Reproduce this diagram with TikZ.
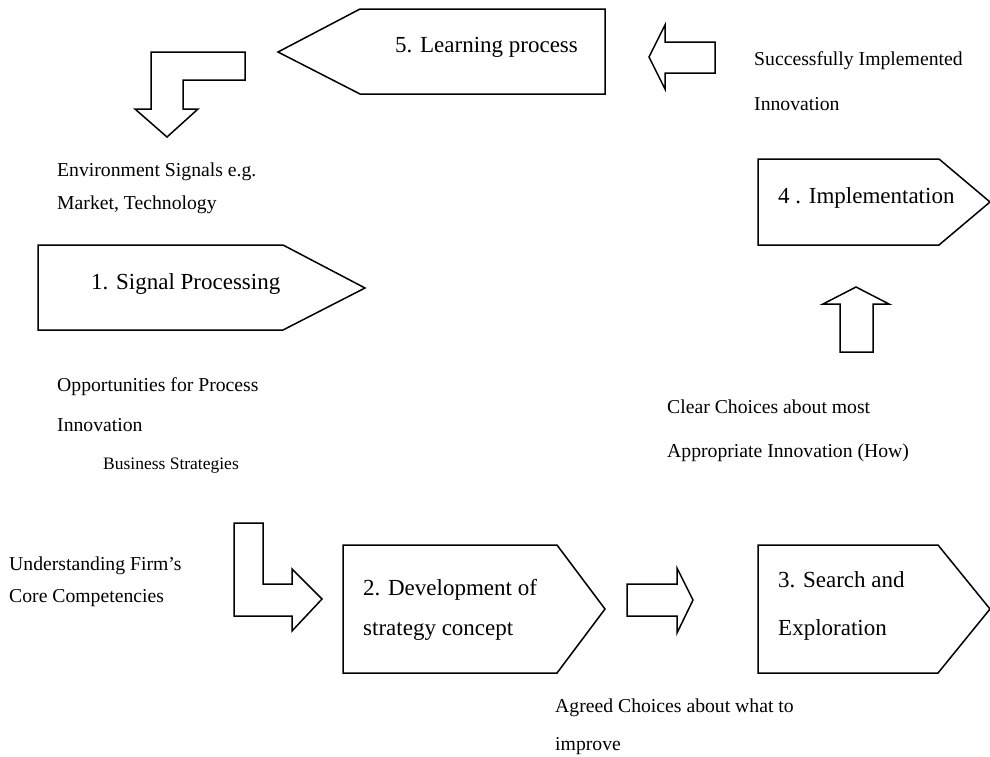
\documentclass[tikz,border=0pt]{standalone}
\usepackage{fontspec}
\setmainfont{Liberation Serif}
\begin{document}
\begin{tikzpicture}[x=1pt,y=-1pt,
  block/.style={draw=black, line width=1.5pt, line join=miter},
  stage/.style={font=\fontsize{23}{27}\selectfont, anchor=base west, inner sep=0pt},
  note/.style={font=\fontsize{19.7}{24}\selectfont, anchor=base west, inner sep=0pt},
  minor/.style={font=\fontsize{17.5}{21}\selectfont, anchor=base west, inner sep=0pt}]
\useasboundingbox (0,0) rectangle (990,756);

% stage 5: learning process (points left)
\draw[block] (605,9) -- (360,9) -- (278,52) -- (360,94) -- (605,94) -- cycle;
\node[stage] (s5) at (395,52) {5. Learning process};

% arrow into stage 5
\draw[block] (715,42) -- (665,42) -- (665,25) -- (649,57) -- (665,89) -- (665,73) -- (715,73) -- cycle;
\node[note] (succ1) at (754,65) {Successfully Implemented};
\node[note] (succ2) at (754,110) {Innovation};

% bent arrow from stage 5 down to the signals
\draw[block] (245,52) -- (151,52) -- (151,109) -- (135,109) -- (167,137) -- (198,109) -- (183,109) -- (183,80) -- (245,80) -- cycle;
\node[note] (env1) at (57,176) {Environment Signals e.g.};
\node[note] (env2) at (57,209) {Market, Technology};

% stage 1: signal processing
\draw[block] (38,245) -- (283,245) -- (365,288) -- (283,330) -- (38,330) -- cycle;
\node[stage] (s1) at (91,289) {1. Signal Processing};

\node[note] (opp1) at (57,391) {Opportunities for Process};
\node[note] (opp2) at (57,431) {Innovation};

\node[minor] (bus) at (103,469) {Business Strategies};
\node[note] (und1) at (9,570) {Understanding Firm’s};
\node[note] (und2) at (9,602) {Core Competencies};

% bent arrow into stage 2
\draw[block] (234,523) -- (263,523) -- (263,584) -- (292,584) -- (292,569) -- (322,599) -- (292,631) -- (292,616) -- (234,616) -- cycle;

% stage 2: development of strategy concept
\draw[block] (343,545) -- (557,545) -- (605,609) -- (557,673) -- (343,673) -- cycle;
\node[stage] (s2a) at (363,595) {2. Development of};
\node[stage] (s2b) at (363,635) {strategy concept};

% arrow from stage 2 to stage 3
\draw[block] (627,584) -- (677,584) -- (677,568) -- (693,600) -- (677,633) -- (677,616) -- (627,616) -- cycle;
\node[note] (agr1) at (555,712) {Agreed Choices about what to};
\node[note] (agr2) at (555,750) {improve};

% stage 3: search and exploration
\draw[block] (758,545) -- (938,545) -- (990,609) -- (938,673) -- (758,673) -- cycle;
\node[stage] (s3a) at (778,587) {3. Search and};
\node[stage] (s3b) at (778,635) {Exploration};

% arrow up to stage 4
\node[note] (clr1) at (667,413) {Clear Choices about most};
\node[note] (clr2) at (667,457) {Appropriate Innovation (How)};
\draw[block] (840,352) -- (840,304) -- (823,304) -- (856,287) -- (889,304) -- (873,304) -- (873,352) -- cycle;

% stage 4: implementation
\draw[block] (758,159) -- (939,159) -- (990,202) -- (939,245) -- (758,245) -- cycle;
\node[stage] (s4) at (778,203) {4 . Implementation};
\end{tikzpicture}
\end{document}
